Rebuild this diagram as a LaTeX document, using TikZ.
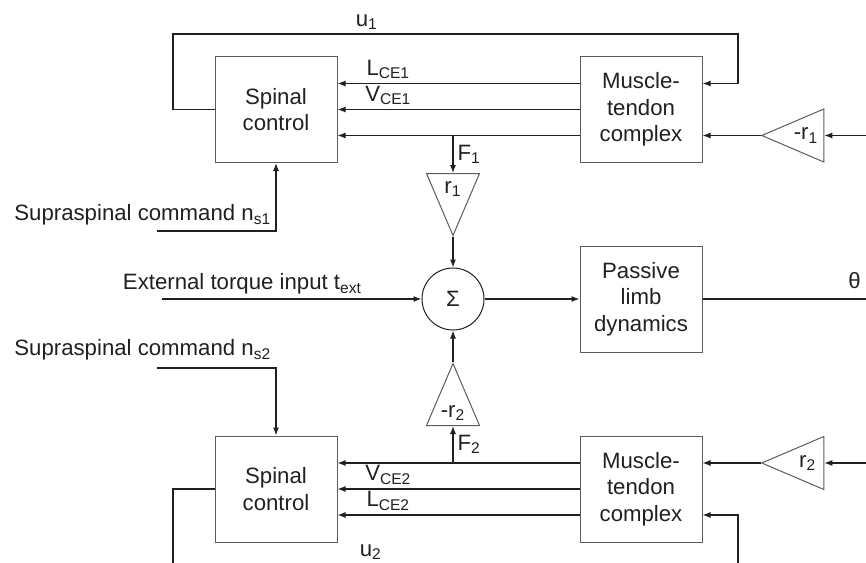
\documentclass[tikz,border=0pt]{standalone}
\usepackage{fontspec}
\setmainfont{Liberation Sans}
\usetikzlibrary{shapes.geometric, arrows.meta, positioning}
\definecolor{inkdark}{HTML}{231F20}
\definecolor{boxgray}{HTML}{5C5C5C}

\begin{document}
\begin{tikzpicture}[
    x=0.5pt, y=-0.5pt,
    every node/.style = {font=\fontsize{11.1}{13.3}\selectfont, text=inkdark},
    block/.style  = {rectangle, draw=boxgray, line width=0.5pt, minimum width=61pt,
                     minimum height=53pt, align=center, inner sep=0pt},
    gain/.style   = {isosceles triangle, isosceles triangle stretches, draw=boxgray,
                     line width=0.5pt, inner sep=0pt, minimum width=26.5pt, minimum height=31pt},
    sumnode/.style= {circle, draw=inkdark, line width=0.5pt, minimum size=31pt, inner sep=0pt},
    sig/.style    = {-{Latex[length=4pt,width=3pt]}, line width=0.6pt, draw=inkdark},
    wire/.style   = {line width=0.6pt, draw=inkdark},
    lbl/.style    = {inner sep=2pt}
  ]
  \clip (0,0) rectangle (866,562);

  % ── Blocks ────────────────────────────────────────────────────────────────
  \node[block] (spinal1) at (276,109.5) {Spinal\\control};
  \node[block] (mtc1)    at (641,109.5) {Muscle-\\tendon\\complex};
  \node[sumnode] (sum)   at (453,299)   {Σ};
  \node[block] (limb)    at (641,299)   {Passive\\limb\\dynamics};
  \node[block] (spinal2) at (276,489)   {Spinal\\control};
  \node[block] (mtc2)    at (641,489)   {Muscle-\\tendon\\complex};

  % ── Gains ─────────────────────────────────────────────────────────────────
  \node[gain, shape border rotate=270, anchor=lower side] (gainF1) at (453,173) {r\textsubscript{1}};
  \node[gain, shape border rotate=90,  anchor=lower side] (gainF2) at (453,426) {-r\textsubscript{2}};
  \node[gain, shape border rotate=180, anchor=apex] (gainin1) at ([xshift=29pt,yshift=-13pt]mtc1.east) {-r\textsubscript{1}};
  \node[gain, shape border rotate=180, anchor=apex] (gainin2) at ([xshift=29pt,yshift=13pt]mtc2.east) {r\textsubscript{2}};

  % ── Free ends ─────────────────────────────────────────────────────────────
  \node[lbl, anchor=west] (ns1) at (10,215) {Supraspinal command n\textsubscript{s1}};
  \node[lbl, anchor=west] (ns2) at (10,350) {Supraspinal command n\textsubscript{s2}};
  \coordinate (ns1in) at (157,231);
  \coordinate (ns2in) at (157,368);
  \coordinate (torquein) at (162,299);
  \coordinate (thetaout) at (866,299);
  \coordinate (in1) at (866,135.5);
  \coordinate (in2) at (866,463);
  \coordinate (f1) at ([yshift=-13pt]spinal1.east);
  \coordinate (f2) at ([yshift=13pt]spinal2.east);

  % ── Upper loop ────────────────────────────────────────────────────────────
  \draw[sig] (spinal1.west) -| (173,34) -- node[lbl, above, pos=0.343] {u\textsubscript{1}} (738,34)
             |- ([yshift=13pt]mtc1.east);
  \draw[sig] ([yshift=13pt]mtc1.west) -- node[lbl, above, pos=0.79] {L\textsubscript{CE1}} ([yshift=13pt]spinal1.east);
  \draw[sig] (mtc1.west) -- node[lbl, above, pos=0.79] {V\textsubscript{CE1}} (spinal1.east);
  \draw[sig] ([yshift=-13pt]mtc1.west) -- (f1);
  \draw[sig] (gainF1.lower side |- f1) -- node[lbl, right] {F\textsubscript{1}} (gainF1.lower side);
  \draw[sig] (gainF1.apex) -- (sum.north);
  \draw[sig] (in1) -- (gainin1.lower side);
  \draw[sig] (gainin1.apex) -- (gainin1.apex -| mtc1.east);
  \draw[sig] (ns1in) -| (spinal1.south);

  % ── Middle ────────────────────────────────────────────────────────────────
  \draw[sig] (torquein) -- node[lbl, above, pos=0.31] {External torque input t\textsubscript{ext}} (sum.west);
  \draw[sig] (sum.east) -- (limb.west);
  \draw[wire] (limb.east) -- node[lbl, above=3pt, pos=0.93] {θ} (thetaout);

  % ── Lower loop ────────────────────────────────────────────────────────────
  \draw[sig] (ns2in) -| (spinal2.north);
  \draw[sig] ([yshift=13pt]mtc2.west) -- (f2);
  \draw[sig] (gainF2.lower side |- f2) -- node[lbl, right] {F\textsubscript{2}} (gainF2.lower side);
  \draw[sig] (gainF2.apex) -- (sum.south);
  \draw[sig] (mtc2.west) -- node[lbl, above, pos=0.79] {V\textsubscript{CE2}} (spinal2.east);
  \draw[sig] ([yshift=-13pt]mtc2.west) -- node[lbl, above, pos=0.79] {L\textsubscript{CE2}} ([yshift=-13pt]spinal2.east);
  \draw[sig] (in2) -- (gainin2.lower side);
  \draw[sig] (gainin2.apex) -- (gainin2.apex -| mtc2.east);
  \draw[sig] (spinal2.west) -| (173,564) -- node[lbl, above, pos=0.35] {u\textsubscript{2}} (738,564)
             |- ([yshift=-13pt]mtc2.east);

\end{tikzpicture}
\end{document}
